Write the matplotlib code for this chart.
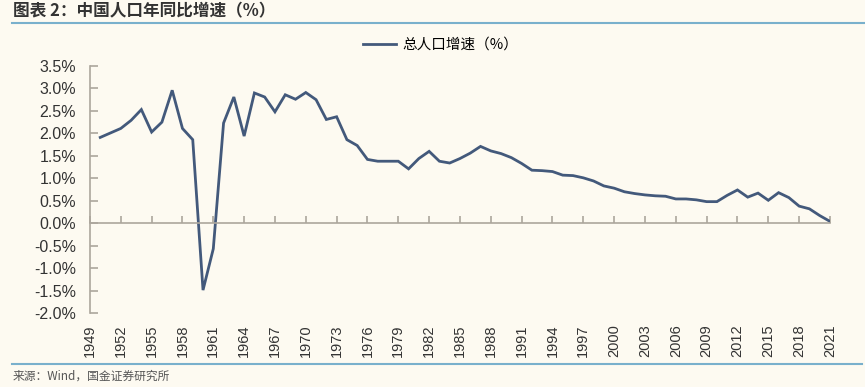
import matplotlib
matplotlib.use("Agg")
import matplotlib.pyplot as plt
from matplotlib.lines import Line2D
from matplotlib.ticker import FuncFormatter
import numpy as np

plt.rcParams['font.family'] = ['Liberation Sans', 'Noto Sans CJK SC', 'DejaVu Sans']

# year-on-year growth of total population, %  (1950..2021)
years = list(range(1950, 2022))
growth = [
    1.91, 2.01, 2.11, 2.29, 2.53, 2.03, 2.25, 2.96, 2.11, 1.86,   # 1950-1959
    -1.49, -0.57, 2.23, 2.81, 1.94, 2.90, 2.81, 2.48, 2.86, 2.76,  # 1960-1969
    2.91, 2.75, 2.31, 2.37, 1.86, 1.73, 1.42, 1.38, 1.38, 1.38,    # 1970-1979
    1.21, 1.44, 1.60, 1.38, 1.34, 1.44, 1.56, 1.71, 1.61, 1.55,    # 1980-1989
    1.46, 1.33, 1.18, 1.17, 1.15, 1.07, 1.06, 1.01, 0.94, 0.83,    # 1990-1999
    0.78, 0.70, 0.66, 0.63, 0.61, 0.60, 0.54, 0.54, 0.52, 0.48,    # 2000-2009
    0.48, 0.62, 0.74, 0.58, 0.67, 0.51, 0.68, 0.57, 0.38, 0.32,    # 2010-2019
    0.17, 0.04,                                                    # 2020-2021
]
tick_years = list(range(1949, 2022, 3))
y_ticks = [-2.0, -1.5, -1.0, -0.5, 0.0, 0.5, 1.0, 1.5, 2.0, 2.5, 3.0, 3.5]

title = "图表 2：中国人口年同比增速（%）"
series_name = "总人口增速（%）"
source = "来源：Wind，国金证券研究所"

bg = "#fdfaf1"
line_c = "#43597b"
axis_c = "#aca69c"
rule_c = "#79b0cc"

fig = plt.figure(figsize=(8.65, 3.87), dpi=100, facecolor=bg)
ax = fig.add_axes([0.104, 0.1912, 0.8555, 0.6382], facecolor=bg)

ax.plot(years, growth, color=line_c, lw=2.0, label=series_name, solid_joinstyle='miter')

ax.set_xlim(1949, 2021)
ax.set_ylim(-2.0, 3.5)
ax.set_yticks(y_ticks)
ax.yaxis.set_major_formatter(FuncFormatter(lambda v, p: f"{v:.1f}%"))

for s in ['top', 'right']:
    ax.spines[s].set_visible(False)
ax.spines['left'].set_color(axis_c)
ax.spines['left'].set_linewidth(1.2)
ax.spines['bottom'].set_position(('data', 0))
ax.spines['bottom'].set_color(axis_c)
ax.spines['bottom'].set_linewidth(1.2)

ax.tick_params(axis='y', direction='in', length=6, width=1.2, color=axis_c,
               labelsize=11.5, labelcolor='#333333', pad=10)
ax.set_xticks(tick_years)
ax.tick_params(axis='x', direction='in', length=5, width=1.2, color=axis_c,
               labelbottom=False)

# year labels sit under the plot, not on the zero line
sec = ax.secondary_xaxis('bottom')
sec.set_xticks(tick_years)
sec.set_xticklabels([str(y) for y in tick_years], rotation=90)
sec.tick_params(axis='x', length=0, pad=8, labelsize=10.5, labelcolor='#333333')
sec.spines['bottom'].set_visible(False)

fig.legend(loc='center', bbox_to_anchor=(0.509, 1 - 45 / 387), frameon=False,
           handlelength=2.3, handletextpad=0.4,
           prop={'family': ['Noto Sans CJK SC', 'DejaVu Sans'], 'size': 10.5})

fig.text(0.015, 1 - 11 / 387, title, fontsize=12, fontweight='bold', style='italic',
         color='#333333', va='center', ha='left',
         family=['Noto Sans CJK SC', 'DejaVu Sans'])
fig.add_artist(Line2D([0.014, 1.0], [1 - 22.7 / 387] * 2, color=rule_c, lw=1.5,
                      transform=fig.transFigure))
fig.add_artist(Line2D([0.014, 0.996], [1 - 364 / 387] * 2, color=rule_c, lw=1.5,
                      transform=fig.transFigure))
fig.text(0.015, 1 - 376 / 387, source, fontsize=8.5, color='#555555', va='center',
         ha='left', family=['Noto Sans CJK SC', 'DejaVu Sans'])

fig.savefig("out.png", dpi=100, facecolor=bg)
